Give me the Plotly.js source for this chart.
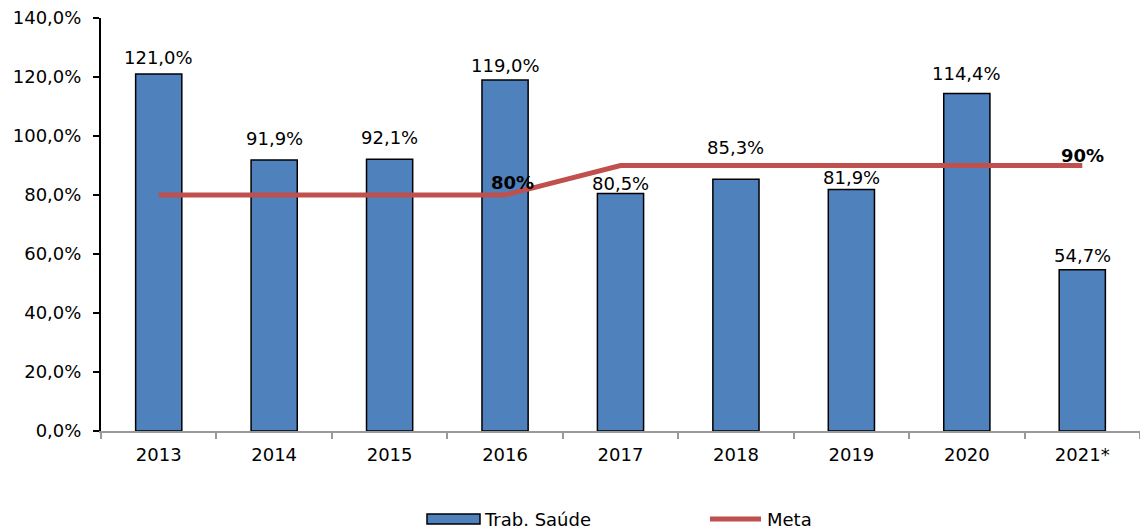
<!DOCTYPE html>
<html>
<head>
<meta charset="utf-8">
<script src="https://cdn.plot.ly/plotly-3.0.1.min.js"></script>
<style>html,body{margin:0;padding:0;background:#fff;}#chart{width:1140px;height:531px;}</style>
</head>
<body>
<div id="chart"></div>
<script>
var years = ["2013","2014","2015","2016","2017","2018","2019","2020","2021*"];
var trabSaude = [121.0, 91.9, 92.1, 119.0, 80.5, 85.3, 81.9, 114.4, 54.7];
var meta = [80, 80, 80, 80, 90, 90, 90, 90, 90];
var yTicks = [0, 20, 40, 60, 80, 100, 120, 140];

var FONT = "DejaVu Sans, Verdana, sans-serif";
var W = 1140, H = 531, ML = 101, MR = 0, MT = 18, MB = 100;
var pw = W - ML - MR, ph = H - MT - MB;
function px(x){ return (x - ML) / pw; }
function py(y){ return (H - MB - y) / ph; }
function fmt(v){ return v.toFixed(1).replace(".", ",") + "%"; }

// vertical pixel offset of each bar's value label (label centre above bar top), as placed in the original
var labelLift = [17, 21, 22, 14, 10, 32, 12, 20, 14];

var traces = [
  {
    type: "bar", x: years, y: trabSaude, name: "Trab. Saúde",
    width: 0.4,
    marker: {color: "#4F81BD", line: {color: "#000000", width: 1.5}},
    hoverinfo: "skip"
  },
  {
    type: "scatter", mode: "lines", x: years, y: meta, name: "Meta",
    line: {color: "#C0504D", width: 5},
    hoverinfo: "skip"
  }
];

var annotations = trabSaude.map(function(v, i){
  return {x: i, y: v, xref: "x", yref: "y", text: fmt(v), showarrow: false,
          yanchor: "middle", yshift: labelLift[i],
          font: {family: FONT, size: 18, color: "#000"}};
});
annotations.push(
  {x: 3, y: meta[3], xref: "x", yref: "y", text: "<b>" + meta[3] + "%</b>", showarrow: false,
   yshift: 13, xshift: 7, font: {family: FONT, size: 18, color: "#000"}},
  {x: 8, y: meta[8], xref: "x", yref: "y", text: "<b>" + meta[8] + "%</b>", showarrow: false,
   yshift: 10, font: {family: FONT, size: 18, color: "#000"}}
);

var legY = py(519);
annotations.push(
  {x: px(482), y: legY, xref: "paper", yref: "paper", xanchor: "left", yanchor: "middle",
   text: "Trab. Saúde", showarrow: false, font: {family: FONT, size: 18, color: "#000"}},
  {x: px(765), y: legY, xref: "paper", yref: "paper", xanchor: "left", yanchor: "middle",
   text: "Meta", showarrow: false, font: {family: FONT, size: 18, color: "#000"}}
);

var layout = {
  width: W, height: H,
  margin: {l: ML, r: MR, t: MT, b: MB, pad: 0},
  paper_bgcolor: "#fff", plot_bgcolor: "#fff",
  showlegend: false,
  font: {family: FONT, size: 18, color: "#000"},
  xaxis: {
    type: "category", range: [-0.5, 8.5],
    showline: true, linecolor: "#9a9a9a", linewidth: 2,
    ticks: "outside", tickson: "boundaries", ticklen: 6, tickcolor: "#9a9a9a", tickwidth: 2,
    showgrid: false, zeroline: false,
    tickfont: {family: FONT, size: 18, color: "#000"},
    ticklabelstandoff: 6
  },
  yaxis: {
    range: [0, 140], tickmode: "array", tickvals: yTicks, ticktext: yTicks.map(fmt),
    showline: true, linecolor: "#000", linewidth: 2,
    ticks: "outside", ticklen: 6, tickcolor: "#000", tickwidth: 2,
    showgrid: false, zeroline: false,
    tickfont: {family: FONT, size: 18, color: "#000"},
    ticklabelstandoff: 8
  },
  annotations: annotations,
  shapes: [
    {type: "rect", xref: "paper", yref: "paper", x0: px(427), x1: px(480), y0: py(524), y1: py(514),
     fillcolor: "#4F81BD", line: {color: "#000", width: 1.5}},
    {type: "line", xref: "paper", yref: "paper", x0: px(710), x1: px(761), y0: legY, y1: legY,
     line: {color: "#C0504D", width: 5}}
  ]
};

Plotly.newPlot("chart", traces, layout, {displayModeBar: false, staticPlot: true});
</script>
</body>
</html>
